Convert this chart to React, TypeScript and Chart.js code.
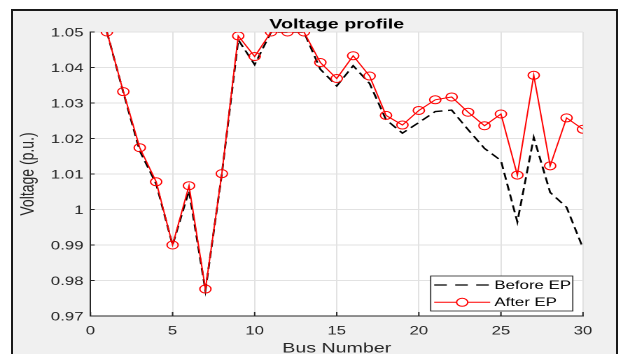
import React, { useEffect, useRef } from "react";
import { Chart, registerables } from "chart.js";

Chart.register(...registerables);

// ---- data ----
const busNumbers = [1, 2, 3, 4, 5, 6, 7, 8, 9, 10, 11, 12, 13, 14, 15, 16, 17, 18, 19, 20, 21, 22, 23, 24, 25, 26, 27, 28, 29, 30];
const beforeEP = [1.05, 1.033, 1.0165, 1.0072, 0.99, 1.0053, 0.9772, 1.01, 1.0478, 1.0408, 1.05, 1.05, 1.05, 1.0395, 1.0348, 1.0405, 1.0355, 1.0253, 1.0215, 1.0245, 1.0276, 1.028, 1.0225, 1.0172, 1.0138, 0.9965, 1.0203, 1.0048, 1.0006, 0.9891];
const afterEP = [1.05, 1.0332, 1.0174, 1.0078, 0.99, 1.0067, 0.9776, 1.0101, 1.0489, 1.0431, 1.05, 1.05, 1.05, 1.0414, 1.0369, 1.0433, 1.0376, 1.0265, 1.0238, 1.0279, 1.0309, 1.0317, 1.0274, 1.0236, 1.0269, 1.0097, 1.0378, 1.0123, 1.0258, 1.0226];
const xTicks = [0, 5, 10, 15, 20, 25, 30];
const yTicks = [0.97, 0.98, 0.99, 1.0, 1.01, 1.02, 1.03, 1.04, 1.05];
const seriesLabels = ["Before EP", "After EP"];
const chartTitle = "Voltage profile";
const xTitle = "Bus Number";
const yTitle = "Voltage (p.u.)";

// ---- layout ----
const SX = 1.4; // horizontal stretch of the whole figure
const CW = 444;
const CH = 354;
const FONT = "'Liberation Sans', Arial, Helvetica, sans-serif";
const AXIS = "#262626";
const GRID = "#e2e2e2";
const RED = "#ff0000";

const decor = {
  id: "decor",
  beforeDraw(chart: any) {
    const { ctx, chartArea: a } = chart;
    ctx.save();
    ctx.fillStyle = "#ffffff";
    ctx.fillRect(a.left, a.top, a.right - a.left, a.bottom - a.top);
    ctx.restore();
  },
  beforeDatasetsDraw(chart: any) {
    const { ctx, chartArea: a, scales } = chart;
    const x = scales.x;
    const y = scales.y;
    ctx.save();
    ctx.strokeStyle = AXIS;
    ctx.lineWidth = 1;
    ctx.beginPath();
    xTicks.forEach((v) => {
      const px = x.getPixelForValue(v);
      ctx.moveTo(px, a.bottom);
      ctx.lineTo(px, a.bottom - 4);
    });
    yTicks.forEach((v) => {
      const py = y.getPixelForValue(v);
      ctx.moveTo(a.left, py);
      ctx.lineTo(a.left + 3, py);
    });
    ctx.stroke();
    ctx.restore();
  },
  afterDraw(chart: any) {
    const { ctx, chartArea: a } = chart;
    ctx.save();
    // title
    ctx.font = `bold 14px ${FONT}`;
    ctx.fillStyle = "#000";
    ctx.textAlign = "center";
    ctx.textBaseline = "alphabetic";
    ctx.fillText(chartTitle, (a.left + a.right) / 2, 28.5);

    // legend
    const w = 101.5;
    const h = 35;
    const lx = a.right - 7.3 - w;
    const ly = a.bottom - 5 - h;
    ctx.fillStyle = "#ffffff";
    ctx.fillRect(lx, ly, w, h);
    ctx.strokeStyle = AXIS;
    ctx.lineWidth = 0.8;
    ctx.strokeRect(lx, ly, w, h);

    const r1 = ly + 9;
    const r2 = ly + 26.3;
    const sx0 = lx + 2.5;
    const sx1 = lx + 42.5;
    // before sample
    ctx.strokeStyle = "#000";
    ctx.lineWidth = 1.3;
    ctx.setLineDash([9, 6]);
    ctx.beginPath();
    ctx.moveTo(sx0, r1);
    ctx.lineTo(sx1, r1);
    ctx.stroke();
    ctx.setLineDash([]);
    // after sample
    ctx.strokeStyle = RED;
    ctx.lineWidth = 1;
    ctx.beginPath();
    ctx.moveTo(sx0, r2);
    ctx.lineTo(sx1, r2);
    ctx.stroke();
    ctx.beginPath();
    ctx.arc((sx0 + sx1) / 2, r2, 4, 0, Math.PI * 2);
    ctx.fillStyle = "#ffffff";
    ctx.fill();
    ctx.stroke();

    ctx.font = `12px ${FONT}`;
    ctx.fillStyle = "#000";
    ctx.textAlign = "left";
    ctx.textBaseline = "middle";
    ctx.fillText(seriesLabels[0], lx + 45.5, r1 + 0.5);
    ctx.fillText(seriesLabels[1], lx + 45.5, r2 + 0.5);
    ctx.restore();
  },
};

function fmtY(v: number) {
  return String(Number(v.toFixed(2)));
}

export default function App() {
  const ref = useRef<HTMLCanvasElement | null>(null);

  useEffect(() => {
    if (!ref.current) return;
    const chart = new Chart(ref.current, {
      type: "line",
      data: {
        datasets: [
          {
            label: seriesLabels[0],
            data: busNumbers.map((b, i) => ({ x: b, y: beforeEP[i] })),
            borderColor: "#000000",
            borderWidth: 1.4,
            borderDash: [7, 4],
            pointRadius: 0,
            fill: false,
            tension: 0,
            order: 2,
          },
          {
            label: seriesLabels[1],
            data: busNumbers.map((b, i) => ({ x: b, y: afterEP[i] })),
            borderColor: RED,
            borderWidth: 1,
            pointStyle: "circle",
            pointRadius: 4,
            pointBorderWidth: 1,
            pointBorderColor: RED,
            pointBackgroundColor: "rgba(0,0,0,0)",
            fill: false,
            tension: 0,
            order: 1,
          },
        ],
      },
      options: {
        animation: false,
        responsive: false,
        devicePixelRatio: 2,
        events: [],
        layout: { padding: { left: 0, right: 27.57, top: 32, bottom: 0 } },
        plugins: {
          legend: { display: false },
          tooltip: { enabled: false },
          title: { display: false },
        },
        scales: {
          x: {
            type: "linear",
            min: 0,
            max: 30,
            afterBuildTicks: (s: any) => {
              s.ticks = xTicks.map((v) => ({ value: v }));
            },
            afterFit: (s: any) => {
              s.height = 38;
            },
            grid: { color: GRID, lineWidth: 1, drawTicks: false },
            border: { display: true, color: AXIS, width: 1 },
            ticks: {
              color: AXIS,
              font: { family: FONT, size: 12 },
              padding: 8,
              maxRotation: 0,
              callback: (v: any) => String(v),
            },
            title: {
              display: true,
              text: xTitle,
              color: AXIS,
              font: { family: FONT, size: 14 },
              padding: { top: 0, bottom: -3 },
            },
          },
          y: {
            type: "linear",
            min: 0.97,
            max: 1.05,
            afterBuildTicks: (s: any) => {
              s.ticks = yTicks.map((v) => ({ value: v }));
            },
            afterFit: (s: any) => {
              s.width = 64.64;
            },
            grid: { color: GRID, lineWidth: 1, drawTicks: false },
            border: { display: true, color: AXIS, width: 1 },
            ticks: {
              color: AXIS,
              font: { family: FONT, size: 12 },
              padding: 5,
              labelOffset: 1,
              callback: (v: any) => fmtY(Number(v)),
            },
            title: {
              display: true,
              text: yTitle,
              color: AXIS,
              font: { family: FONT, size: 14 },
              padding: { top: 11.6, bottom: 0 },
            },
          },
        },
      },
      plugins: [decor],
    });
    return () => chart.destroy();
  }, []);

  return (
    <div
      style={{
        position: "absolute",
        left: 0,
        top: 0,
        width: 621,
        height: 354,
        overflow: "hidden",
        background: "#ffffff",
      }}
    >
      <div
        style={{
          position: "absolute",
          left: 11,
          top: 9,
          width: 607,
          height: 400,
          border: "2px solid #1a1a1a",
          background: "#f0f0f0",
          boxSizing: "border-box",
        }}
      />
      <div
        style={{
          position: "absolute",
          left: 0,
          top: 0,
          width: CW,
          height: CH,
          transform: `scaleX(${SX})`,
          transformOrigin: "0 0",
        }}
      >
        <canvas ref={ref} width={CW} height={CH} style={{ display: "block", width: CW, height: CH }} />
      </div>
    </div>
  );
}
